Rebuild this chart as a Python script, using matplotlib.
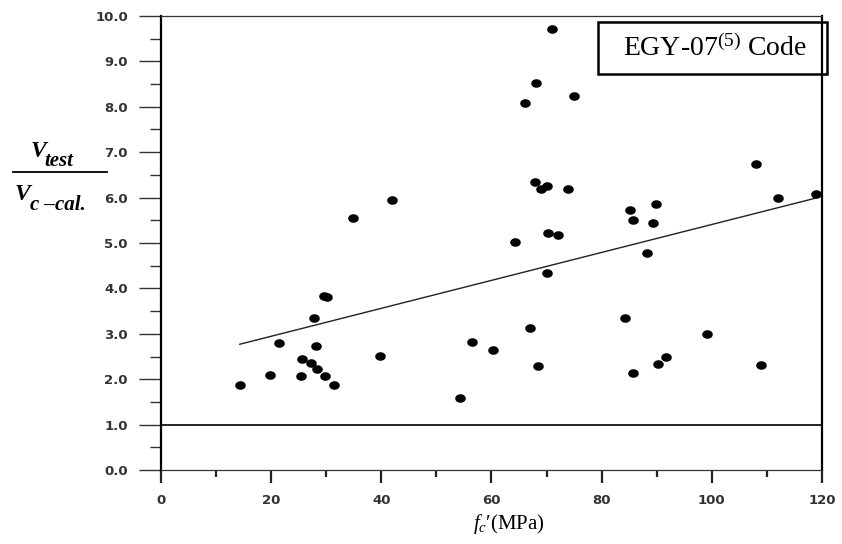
import numpy as np
import matplotlib
matplotlib.use("Agg")
from matplotlib import pyplot as plt
from matplotlib.lines import Line2D
from matplotlib.patches import Rectangle

plt.rcParams['mathtext.fontset'] = 'custom'
plt.rcParams['mathtext.rm'] = 'Liberation Serif'
plt.rcParams['mathtext.it'] = 'Liberation Serif:italic'
plt.rcParams['mathtext.bf'] = 'Liberation Serif:bold:italic'

# f'c (MPa) vs Vtest / Vc-cal
fc = [41.9, 34.9, 29.6, 30.2, 27.7, 21.4, 28.1, 39.8, 25.6, 27.2, 28.4, 19.7,
      25.5, 29.8, 14.3, 31.4,
      70.9, 68.0, 75.0, 66.0,
      67.9, 70.0, 68.9, 73.9, 108.1, 112.0, 118.9, 89.9, 85.1, 85.7, 89.4,
      64.2, 70.2, 72.0, 88.2, 70.0, 84.2, 67.0, 99.2, 91.6, 90.3, 68.4,
      108.9, 85.7,
      56.4, 60.3, 54.3]
ratio = [5.94, 5.54, 3.83, 3.80, 3.35, 2.80, 2.73, 2.52, 2.44, 2.36, 2.22, 2.09,
         2.08, 2.06, 1.87, 1.88,
         9.71, 8.53, 8.24, 8.08,
         6.34, 6.26, 6.18, 6.18, 6.73, 6.00, 6.08, 5.87, 5.73, 5.51, 5.43,
         5.02, 5.22, 5.17, 4.78, 4.33, 3.34, 3.12, 2.99, 2.50, 2.33, 2.28,
         2.31, 2.14,
         2.81, 2.64, 1.58]

# trend line end points
fit_x = [14.3, 118.9]
fit_y = [2.77, 5.99]

limit_y = 1.0
x_ticks = [0, 20, 40, 60, 80, 100, 120]
x_minor = [10, 30, 50, 70, 90, 110]
y_ticks = [0, 1, 2, 3, 4, 5, 6, 7, 8, 9, 10]
y_minor = [0.5, 1.5, 2.5, 3.5, 4.5, 5.5, 6.5, 7.5, 8.5, 9.5]

W, H = 842, 544
fig = plt.figure(figsize=(W / 100, H / 100), dpi=100)
ax = fig.add_axes([161 / W, 74 / H, 661 / W, 454 / H])

# slightly wide dots, like the scanned original
t = np.linspace(0, 2 * np.pi, 40)
dot = list(zip(np.cos(t), 0.78 * np.sin(t)))

ax.plot(fit_x, fit_y, color='#222222', lw=1.0, zorder=2)
ax.axhline(limit_y, color='black', lw=1.2, zorder=2)
ax.plot(fc, ratio, linestyle='none', marker=dot, ms=6.6, color='black',
        mec='black', zorder=3)

ax.set_xlim(0, 120)
ax.set_ylim(0, 10)
ax.set_xticks(x_ticks)
ax.set_xticks(x_minor, minor=True)
ax.set_yticks(y_ticks)
ax.set_yticks(y_minor, minor=True)
ax.set_yticklabels([f'{v:.1f}' for v in y_ticks])

ax.tick_params(axis='x', which='major', length=9.4, width=1.6, pad=8,
               color='#222222', labelcolor='#333333')
ax.tick_params(axis='x', which='minor', length=5, width=1.6, color='#222222')
ax.tick_params(axis='y', which='major', length=15.8, width=1.0, pad=8,
               color='#333333', labelcolor='#333333')
ax.tick_params(axis='y', which='minor', length=7.9, width=1.0, color='#333333')
for lab in ax.get_xticklabels() + ax.get_yticklabels():
    lab.set_fontweight('bold')
    lab.set_fontsize(9.5)
    lab.set_family('DejaVu Sans')

ax.spines['left'].set_linewidth(1.6)
ax.spines['right'].set_linewidth(1.6)
ax.spines['top'].set_linewidth(0.9)
ax.spines['bottom'].set_linewidth(0.9)
ax.spines['left'].set_color('black')
ax.spines['right'].set_color('black')
ax.spines['top'].set_color('#333333')
ax.spines['bottom'].set_color('#333333')

# x label
serif = ['Liberation Serif', 'DejaVu Serif']
fig.text(509 / W, 1 - 529 / H, '$f_{c}$\u2032(MPa)', family=serif, fontsize=15,
         ha='center', va='baseline')

# y label drawn as a fraction
serif_bi = dict(family='Liberation Serif', weight='bold', style='italic',
                va='baseline', ha='left')
fig.text(31 / W, 1 - 157 / H, 'V', fontsize=17, **serif_bi)
fig.text(44 / W, 1 - 166 / H, 'test', fontsize=15, **serif_bi)
fig.add_artist(Line2D([13 / W, 107 / W], [1 - 172 / H, 1 - 172 / H],
                      color='black', lw=1.3, transform=fig.transFigure))
fig.text(15 / W, 1 - 200 / H, 'V', fontsize=17, **serif_bi)
fig.text(30 / W, 1 - 210 / H, 'c \u2013cal.', fontsize=15, **serif_bi)

# code box
fig.add_artist(Rectangle((598 / W, 1 - 73.5 / H), 229 / W, 52 / H,
                         fill=False, lw=1.8, edgecolor='black',
                         transform=fig.transFigure))
fig.text(715 / W, 1 - 56.5 / H, r'EGY-07$^{(5)}$ Code', family='Liberation Serif',
         fontsize=20, ha='center', va='baseline')

fig.savefig('out.png', dpi=100)
